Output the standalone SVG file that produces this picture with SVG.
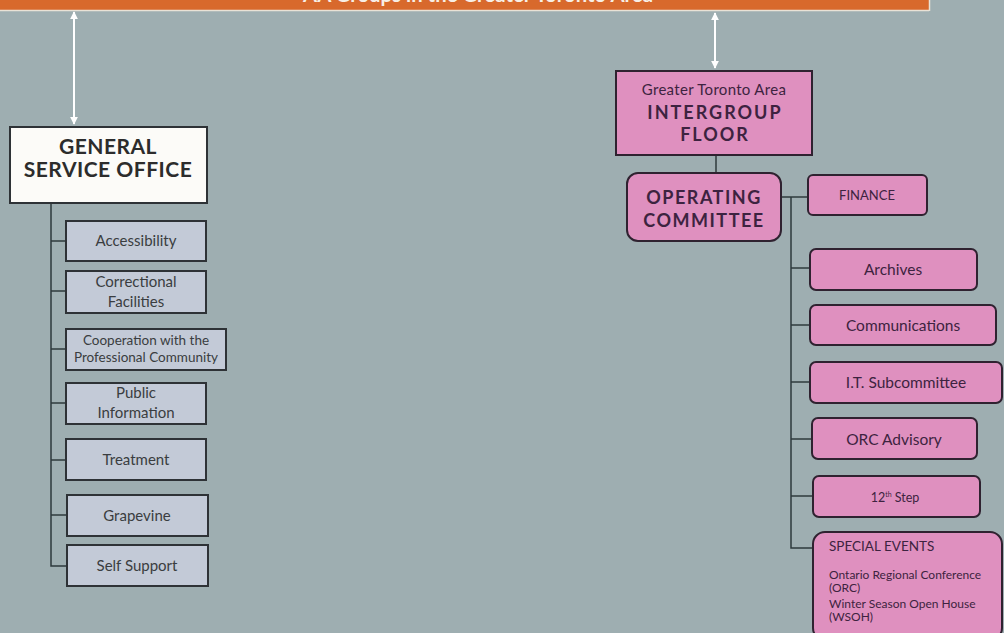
<svg xmlns="http://www.w3.org/2000/svg" width="1004" height="633" viewBox="0 0 1004 633">
<defs>
<marker id="ah" viewBox="0 0 10 10" refX="9" refY="5" markerWidth="4" markerHeight="4" orient="auto-start-reverse" markerUnits="strokeWidth">
<path d="M0,0 L10,5 L0,10 z" fill="#ffffff"/>
</marker>
<style>
text{font-family:Lato,"Open Sans","Liberation Sans",sans-serif;text-anchor:middle}
.gb{fill:#c3cad7;stroke:#2e3236;stroke-width:2}
.gt{fill:#3a3d40;font-size:15px}
.pb{fill:#df90bf;stroke:#2f2230;stroke-width:2}
.pt{fill:#3d2340;font-size:15.5px}
.hd{font-weight:bold;font-size:18px;letter-spacing:1.5px}
.ln{stroke:#2e3a3c;stroke-width:1.5;fill:none}
.ar{stroke:#ffffff;stroke-width:2;fill:none;marker-start:url(#ah);marker-end:url(#ah)}
.se{fill:#3d2340;font-size:12px;text-anchor:start}
</style>
</defs>
<rect width="1004" height="633" fill="#9eaeb1"/>
<g id="title">
<rect x="0" y="0" width="929" height="10" fill="#d8692c"/>
<line x1="0" y1="10.5" x2="929" y2="10.5" stroke="#e9e2d6" stroke-width="1.5"/>
<line x1="929.5" y1="0" x2="929.5" y2="11" stroke="#e9e2d6" stroke-width="1.5"/>
<text x="478" y="2" font-size="20" font-weight="bold" fill="#f7efe6" textLength="350" lengthAdjust="spacingAndGlyphs">AA Groups in the Greater Toronto Area</text>
</g>
<g id="connectors">
<line class="ar" x1="74" y1="12" x2="74" y2="124"/>
<line class="ar" x1="715" y1="13" x2="715" y2="68"/>
<polyline class="ln" points="51,204 51,566 67,566"/>
<line class="ln" x1="51" y1="241" x2="66" y2="241"/>
<line class="ln" x1="51" y1="291" x2="66" y2="291"/>
<line class="ln" x1="51" y1="349" x2="66" y2="349"/>
<line class="ln" x1="51" y1="403" x2="66" y2="403"/>
<line class="ln" x1="51" y1="460" x2="66" y2="460"/>
<line class="ln" x1="51" y1="515" x2="67" y2="515"/>
<line class="ln" x1="716" y1="155" x2="716" y2="173"/>
<line class="ln" x1="781" y1="197" x2="808" y2="197"/>
<polyline class="ln" points="791,197 791,548 813,548"/>
<line class="ln" x1="791" y1="268" x2="810" y2="268"/>
<line class="ln" x1="791" y1="325" x2="810" y2="325"/>
<line class="ln" x1="791" y1="382" x2="810" y2="382"/>
<line class="ln" x1="791" y1="439" x2="812" y2="439"/>
<line class="ln" x1="791" y1="496" x2="813" y2="496"/>
</g>
<g id="gso">
<rect x="10" y="127" width="197" height="76" fill="#fcfbf8" stroke="#2e3236" stroke-width="2"/>
<text x="108" y="154" font-size="21" font-weight="bold" fill="#2c2c2c" letter-spacing="0.5">GENERAL</text>
<text x="108" y="177" font-size="21" font-weight="bold" fill="#2c2c2c" letter-spacing="0.5">SERVICE OFFICE</text>
</g>
<g id="accessibility">
<rect class="gb" x="66" y="221" width="140" height="40"/>
<text class="gt" x="136" y="246">Accessibility</text>
</g>
<g id="correctional">
<rect class="gb" x="66" y="271" width="140" height="42"/>
<text class="gt" x="136" y="287">Correctional</text>
<text class="gt" x="136" y="307">Facilities</text>
</g>
<g id="cpc">
<rect class="gb" x="66" y="329" width="160" height="41"/>
<text class="gt" x="146" y="345" style="font-size:13.5px">Cooperation with the</text>
<text class="gt" x="146" y="362" style="font-size:13.5px">Professional Community</text>
</g>
<g id="pi">
<rect class="gb" x="66" y="383" width="140" height="41"/>
<text class="gt" x="136" y="398">Public</text>
<text class="gt" x="136" y="418">Information</text>
</g>
<g id="treatment">
<rect class="gb" x="66" y="439" width="140" height="41"/>
<text class="gt" x="136" y="465">Treatment</text>
</g>
<g id="grapevine">
<rect class="gb" x="67" y="495" width="141" height="41"/>
<text class="gt" x="137" y="521">Grapevine</text>
</g>
<g id="selfsupport">
<rect class="gb" x="67" y="545" width="141" height="41"/>
<text class="gt" x="137" y="571">Self Support</text>
</g>
<g id="intergroup">
<rect class="pb" x="616" y="71" width="196" height="84"/>
<text class="pt" x="714" y="95" style="font-size:15px;letter-spacing:0.3px">Greater Toronto Area</text>
<text class="pt hd" x="715" y="119" style="letter-spacing:2px">INTERGROUP</text>
<text class="pt hd" x="715" y="141" style="letter-spacing:2px">FLOOR</text>
</g>
<g id="opcom">
<rect class="pb" x="627" y="173" width="154" height="68" rx="11"/>
<text class="pt hd" x="704" y="204">OPERATING</text>
<text class="pt hd" x="704" y="227">COMMITTEE</text>
</g>
<g id="finance">
<rect class="pb" x="808" y="175" width="119" height="40" rx="5"/>
<text class="pt" x="867" y="200" style="font-size:13px">FINANCE</text>
</g>
<g id="archives">
<rect class="pb" x="810" y="249" width="167" height="41" rx="6"/>
<text class="pt" x="893" y="275">Archives</text>
</g>
<g id="communications">
<rect class="pb" x="810" y="305" width="186" height="40" rx="6"/>
<text class="pt" x="903" y="331">Communications</text>
</g>
<g id="it">
<rect class="pb" x="810" y="362" width="192" height="41" rx="6"/>
<text class="pt" x="906" y="388">I.T. Subcommittee</text>
</g>
<g id="orc">
<rect class="pb" x="812" y="418" width="165" height="41" rx="6"/>
<text class="pt" x="894" y="445">ORC Advisory</text>
</g>
<g id="step12">
<rect class="pb" x="813" y="476" width="167" height="41" rx="6"/>
<text class="pt" x="895" y="502" style="font-size:12.5px">12<tspan font-size="7" dy="-5">th</tspan><tspan dy="5"> Step</tspan></text>
</g>
<g id="specialevents">
<rect class="pb" x="813" y="532" width="189" height="108" rx="12"/>
<text class="se" x="829" y="551" style="font-size:13.5px">SPECIAL EVENTS</text>
<text class="se" x="829" y="579">Ontario Regional Conference</text>
<text class="se" x="829" y="592">(ORC)</text>
<text class="se" x="829" y="608">Winter Season Open House</text>
<text class="se" x="829" y="621">(WSOH)</text>
</g>
</svg>
